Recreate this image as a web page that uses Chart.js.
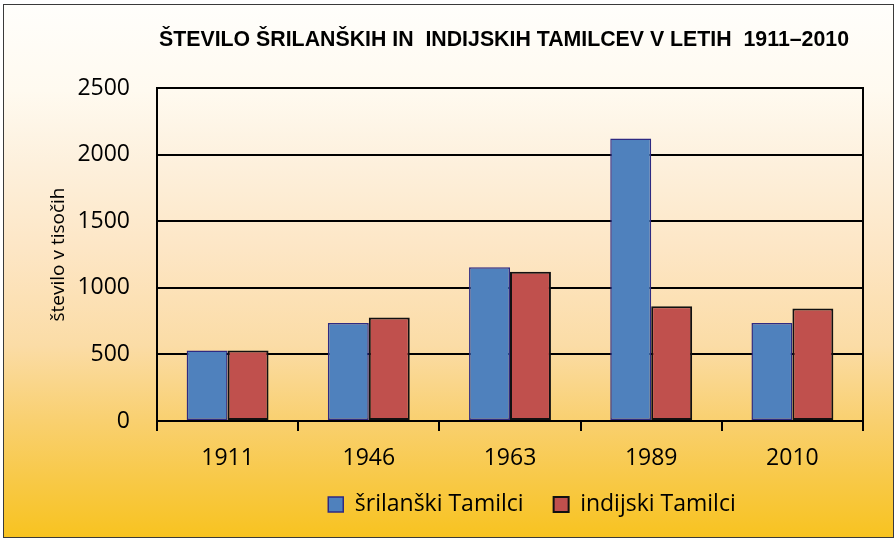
<!DOCTYPE html>
<html>
<head>
<meta charset="utf-8">
<script src="https://cdn.jsdelivr.net/npm/chart.js@4/dist/chart.umd.min.js"></script>
<style>
  html, body { margin: 0; padding: 0; background: #ffffff; }
  body { width: 894px; height: 539px; position: relative; overflow: hidden; }
  #frame {
    position: absolute; left: 3px; top: 4px; width: 889px; height: 532px;
    border: 1px solid #3a3a3a;
    background: linear-gradient(to bottom,
      #fffefb 0%, #fffaf0 16%, #fdf0dc 30%, #fde6c5 46%, #fbdca6 64%,
      #f9d070 78%, #f8c948 89%, #f8c320 100%);
  }
  #wrap { position: absolute; left: 0; top: 0; width: 894px; height: 539px; }
</style>
</head>
<body>
<div id="frame"></div>
<div id="wrap"><canvas id="c" width="894" height="539"></canvas></div>
<script>
const titleText = 'ŠTEVILO ŠRILANŠKIH IN  INDIJSKIH TAMILCEV V LETIH  1911–2010';
const yAxisTitle = 'število v tisočih';
const categories = ['1911', '1946', '1963', '1989', '2010'];
const seriesNames = ['šrilanški Tamilci', 'indijski Tamilci'];
const sriLankan = [530, 735, 1155, 2120, 735];
const indian = [530, 777, 1121, 862, 845];
const yTicks = [0, 500, 1000, 1500, 2000, 2500];

const tickFont = { family: "'Open Sans', 'Noto Sans', sans-serif", size: 23 };

const titlePlugin = {
  id: 'customTitle',
  afterDraw(chart) {
    const ctx = chart.ctx;
    const ca = chart.chartArea;
    ctx.save();
    ctx.font = "bold 22px 'Liberation Sans', Arial, sans-serif";
    const w = ctx.measureText(titleText).width;
    const target = 690;
    const cx = (ca.left + ca.right) / 2 - 6;
    ctx.translate(cx, 46);
    ctx.scale(target / w, 1);
    ctx.fillStyle = '#000';
    ctx.textAlign = 'center';
    ctx.textBaseline = 'alphabetic';
    ctx.fillText(titleText, 0, 0);
    ctx.restore();
  }
};

const rightBorderPlugin = {
  id: 'rightBorder',
  afterDatasetsDraw(chart) {
    const ctx = chart.ctx;
    const ca = chart.chartArea;
    ctx.save();
    ctx.strokeStyle = '#000';
    ctx.lineWidth = 2;
    ctx.beginPath();
    ctx.moveTo(ca.right, ca.top - 1);
    ctx.lineTo(ca.right, ca.bottom);
    ctx.stroke();
    ctx.restore();
  }
};

const legendShiftPlugin = {
  id: 'legendShift',
  afterLayout(chart) {
    const lg = chart.legend;
    const ca = chart.chartArea;
    const dx = (ca.left + ca.right) / 2 + 22 - (lg.left + lg.right) / 2;
    lg.left += dx;
    lg.right += dx;
    lg.top -= 11;
    lg.bottom -= 11;
  }
};

new Chart(document.getElementById('c'), {
  type: 'bar',
  data: {
    labels: categories,
    datasets: [
      {
        label: seriesNames[0],
        data: sriLankan,
        backgroundColor: '#4F81BD',
        borderColor: '#2E2A82',
        borderWidth: 1.5,
        borderSkipped: false
      },
      {
        label: seriesNames[1],
        data: indian,
        backgroundColor: '#C0504D',
        borderColor: '#111111',
        borderWidth: 2,
        borderSkipped: false
      }
    ]
  },
  options: {
    responsive: false,
    animation: false,
    devicePixelRatio: 1,
    layout: { padding: { top: 88, left: 30, right: 31, bottom: 2 } },
    datasets: { bar: { categoryPercentage: 0.58, barPercentage: 1.0 } },
    plugins: {
      title: { display: false },
      tooltip: { enabled: false },
      legend: {
        position: 'bottom',
        labels: {
          boxWidth: 15,
          boxHeight: 15,
          padding: 30,
          color: '#000',
          font: { family: "'Open Sans', 'Noto Sans', sans-serif", size: 23 }
        }
      }
    },
    scales: {
      x: {
        offset: true,
        afterFit(scale) { scale.height = 53; },
        grid: {
          offset: true,
          drawOnChartArea: false,
          drawTicks: true,
          tickLength: 10,
          color: '#000',
          lineWidth: 2
        },
        border: { display: true, color: '#000', width: 2 },
        ticks: { color: '#000', font: tickFont, padding: 14 }
      },
      y: {
        min: 0,
        max: 2500,
        afterBuildTicks(scale) { scale.ticks = yTicks.map(v => ({ value: v })); },
        afterFit(scale) { scale.width = 127; },
        grid: { color: '#000', lineWidth: 2, drawTicks: false },
        border: { display: true, color: '#000', width: 2 },
        ticks: { color: '#000', font: tickFont, padding: 27, callback: v => String(v) },
        title: {
          display: true,
          text: yAxisTitle,
          color: '#000',
          font: { family: "'Open Sans', 'Noto Sans', sans-serif", size: 19 },
          padding: { top: 17, bottom: 4 }
        }
      }
    }
  },
  plugins: [titlePlugin, rightBorderPlugin, legendShiftPlugin]
});
</script>
</body>
</html>
